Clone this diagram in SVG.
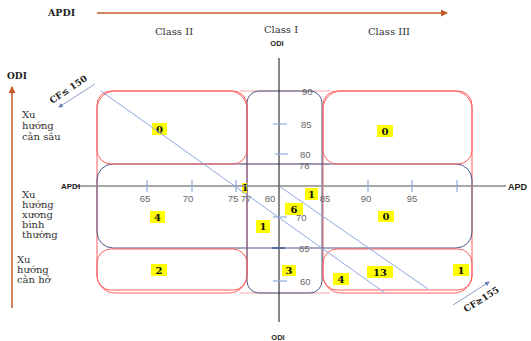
<svg xmlns="http://www.w3.org/2000/svg" width="531" height="341" viewBox="0 0 531 341">
  <defs>
    <marker id="arrOrange" markerWidth="8" markerHeight="8" refX="6" refY="3.5" orient="auto" markerUnits="userSpaceOnUse">
      <path d="M0,0 L7,3.5 L0,7 z" fill="#c55a28"/>
    </marker>
    <marker id="arrThin" markerWidth="6" markerHeight="6" refX="4" refY="2.5" orient="auto" markerUnits="userSpaceOnUse">
      <path d="M0,0 L5,2.5 L0,5 z" fill="#6f86b8"/>
    </marker>
  </defs>
  <style>
    .red{fill:none;stroke:#ff5f5f;stroke-width:1}
    .pink{fill:none;stroke:#f7a5a5;stroke-width:1.2}
    .navy{fill:none;stroke:#4c5888;stroke-width:1}
    .diag{fill:none;stroke:#8ea8dc;stroke-width:1}
    .tick{stroke:#8ea8dc;stroke-width:1.2}
    .cnt rect{fill:#ffff00}
    .cnt text{font-family:"DejaVu Serif",serif;font-weight:bold;font-size:10px;text-anchor:middle;fill:#111}
    .tl{font-family:"Liberation Sans",Arial,sans-serif;font-size:9.5px;fill:#666}
    .lbl{font-family:"DejaVu Serif",serif;font-size:10px;fill:#333}
    .side{font-family:"DejaVu Serif",serif;font-size:10px;fill:#333}
    .bold{font-family:"DejaVu Serif",serif;font-weight:bold;fill:#222}
    .axlab{font-family:"Liberation Sans",Arial,sans-serif;font-weight:bold;fill:#222}
  </style>

  <rect width="531" height="341" fill="#ffffff"/>

  <!-- top APDI scale -->
  <g id="apdi-scale">
    <text class="bold" x="48" y="16" font-size="9.5">APDI</text>
    <line x1="97" y1="13" x2="447" y2="13" stroke="#c55a28" stroke-width="1.5" marker-end="url(#arrOrange)"/>
  </g>

  <!-- class headings -->
  <g id="class-headings">
    <text class="lbl" x="174" y="35" text-anchor="middle">Class II</text>
    <text class="lbl" x="281" y="33" text-anchor="middle">Class I</text>
    <text class="lbl" x="389" y="35" text-anchor="middle">Class III</text>
  </g>

  <!-- left ODI scale -->
  <g id="odi-scale">
    <text class="bold" x="7" y="79" font-size="9">ODI</text>
    <line x1="12" y1="308" x2="12" y2="87" stroke="#c55a28" stroke-width="1.5" marker-end="url(#arrOrange)"/>
  </g>

  <!-- row descriptions -->
  <g id="row-labels">
    <text class="side" x="22">
      <tspan x="22" y="118">Xu</tspan>
      <tspan x="22" y="129">hướng</tspan>
      <tspan x="22" y="140">cằn sâu</tspan>
    </text>
    <text class="side" x="22">
      <tspan x="22" y="198">Xu</tspan>
      <tspan x="22" y="208">hướng</tspan>
      <tspan x="22" y="218">xương</tspan>
      <tspan x="22" y="228">bình</tspan>
      <tspan x="22" y="238">thường</tspan>
    </text>
    <text class="side" x="17">
      <tspan x="17" y="263">Xu</tspan>
      <tspan x="17" y="273">hướng</tspan>
      <tspan x="17" y="283">cằn hở</tspan>
    </text>
  </g>

  <!-- outer grid shapes -->
  <g id="grid">
    <!-- pale band across Class I column -->
    <line class="pink" x1="240" y1="91" x2="330" y2="91"/>
    <line class="pink" x1="240" y1="164" x2="330" y2="164"/>
    <line class="pink" x1="240" y1="293" x2="330" y2="293"/>
    <!-- Class II / Class III column frames -->
    <rect class="red" x="97" y="91" width="150" height="202" rx="18"/>
    <rect class="red" x="323" y="91" width="149" height="202" rx="18"/>
    <!-- middle row frame -->
    <rect class="navy" x="97" y="164" width="375" height="84" rx="16"/>
    <!-- Class I column frame -->
    <rect class="navy" x="247" y="91" width="75" height="202" rx="12"/>
  </g>

  <!-- cells -->
  <g id="cell-deep-class2">
    <rect class="red" x="97" y="91" width="150" height="73" rx="14"/>
    <g class="cnt"><rect x="152" y="123" width="15" height="12"/><text x="159.5" y="133">0</text></g>
  </g>
  <g id="cell-deep-class3">
    <rect class="red" x="323" y="91" width="149" height="73" rx="14"/>
    <g class="cnt"><rect x="377" y="125" width="16" height="12"/><text x="385" y="135">0</text></g>
  </g>
  <g id="cell-normal-class2">
    <g class="cnt"><rect x="150" y="211" width="15" height="12"/><text x="157.5" y="221">4</text></g>
    <g class="cnt"><rect x="242" y="183" width="5" height="10"/><text x="245" y="191" font-size="8px">1</text></g>
  </g>
  <g id="cell-normal-class1">
    <g class="cnt"><rect x="256" y="220" width="14" height="13"/><text x="263" y="230">1</text></g>
    <g class="cnt"><rect x="285" y="203" width="18" height="12"/><text x="294" y="213">6</text></g>
    <g class="cnt"><rect x="305" y="188" width="13" height="12"/><text x="311.5" y="198">1</text></g>
  </g>
  <g id="cell-normal-class3">
    <g class="cnt"><rect x="378" y="211" width="16" height="11"/><text x="386" y="220">0</text></g>
  </g>
  <g id="cell-open-class2">
    <rect class="red" x="97" y="249" width="150" height="41" rx="14"/>
    <g class="cnt"><rect x="151" y="264" width="16" height="12"/><text x="159" y="274">2</text></g>
  </g>
  <g id="cell-open-class1">
    <g class="cnt"><rect x="282" y="265" width="14" height="11"/><text x="289" y="274">3</text></g>
  </g>
  <g id="cell-open-class3">
    <rect class="red" x="323" y="249" width="149" height="41" rx="14"/>
    <g class="cnt"><rect x="333" y="273" width="16" height="12"/><text x="341" y="283">4</text></g>
    <g class="cnt"><rect x="367" y="266" width="26" height="12"/><text x="380" y="276">13</text></g>
    <g class="cnt"><rect x="453" y="264" width="16" height="12"/><text x="461" y="274">1</text></g>
  </g>

  <!-- APDI axis -->
  <g id="apdi-axis">
    <line x1="75" y1="186" x2="506" y2="186" stroke="#8a8a8a" stroke-width="1.5"/>
    <text class="axlab" x="61" y="189" font-size="8">APDI</text>
    <text class="axlab" x="508" y="190" font-size="9">APD</text>
    <line class="tick" x1="147" y1="180" x2="147" y2="192"/>
    <line class="tick" x1="192" y1="180" x2="192" y2="192"/>
    <line class="tick" x1="236" y1="180" x2="236" y2="192"/>
    <line class="tick" x1="368" y1="180" x2="368" y2="192"/>
    <line class="tick" x1="412" y1="180" x2="412" y2="192"/>
    <line class="tick" x1="457" y1="180" x2="457" y2="192"/>
    <text class="tl" x="145" y="202" text-anchor="middle">65</text>
    <text class="tl" x="188" y="202" text-anchor="middle">70</text>
    <text class="tl" x="233" y="202" text-anchor="middle">75</text>
    <text class="tl" x="246" y="202" text-anchor="middle">77</text>
    <text class="tl" x="270" y="202" text-anchor="middle">80</text>
    <text class="tl" x="325" y="202" text-anchor="middle">85</text>
    <text class="tl" x="366" y="202" text-anchor="middle">90</text>
    <text class="tl" x="412" y="202" text-anchor="middle">95</text>
  </g>

  <!-- ODI axis -->
  <g id="odi-axis">
    <line x1="279" y1="58" x2="279" y2="322" stroke="#111" stroke-width="1"/>
    <text class="axlab" x="277" y="46" font-size="7.5" text-anchor="middle">ODI</text>
    <text class="axlab" x="278" y="340" font-size="7.5" text-anchor="middle">ODI</text>
    <line class="tick" x1="273" y1="124" x2="287" y2="124"/>
    <line class="tick" x1="275" y1="154" x2="288" y2="154"/>
    <line class="tick" x1="273" y1="217" x2="287" y2="217"/>
    <line x1="272" y1="248" x2="285" y2="248" stroke="#5a6aa0" stroke-width="2"/>
    <line class="tick" x1="273" y1="281" x2="287" y2="281"/>
    <text class="tl" x="302" y="95">90</text>
    <text class="tl" x="301" y="128">85</text>
    <text class="tl" x="300" y="158">80</text>
    <text class="tl" x="299" y="169">78</text>
    <text class="tl" x="296" y="221">70</text>
    <text class="tl" x="299" y="252">65</text>
    <text class="tl" x="300" y="285">60</text>
  </g>

  <!-- cut-off lines and their arrows -->
  <g id="connectors">
    <line class="diag" x1="101" y1="91" x2="385" y2="293"/>
    <line class="diag" x1="279" y1="186" x2="428" y2="289"/>
    <line x1="95" y1="84" x2="59" y2="107" stroke="#6f86b8" stroke-width="0.8" marker-end="url(#arrThin)"/>
    <line x1="453" y1="305" x2="489" y2="282" stroke="#6f86b8" stroke-width="0.8" marker-end="url(#arrThin)"/>
    <text class="bold" font-size="9" text-anchor="middle" transform="translate(70,92) rotate(-34)">CF≤ 150</text>
    <text class="bold" font-size="9" text-anchor="middle" transform="translate(483,302) rotate(-32)">CF≥155</text>
  </g>
</svg>
